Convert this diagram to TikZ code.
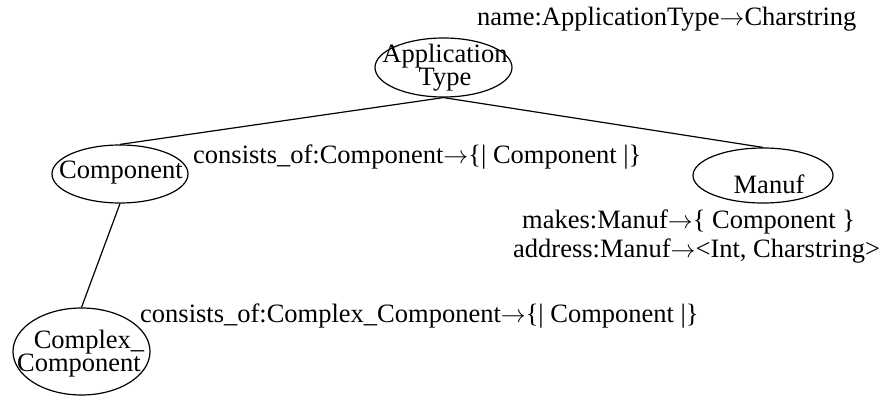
\documentclass[tikz,border=0pt]{standalone}
\usepackage{fontspec}
\setmainfont{Liberation Serif}
\usetikzlibrary{shapes.geometric}
\newcommand{\toarrow}{$\rightarrow$}
\begin{document}
\begin{tikzpicture}[x=1pt,y=-1pt,
  every node/.style={font=\fontsize{26.5}{23.5}\selectfont, inner sep=0pt},
  entity/.style={ellipse, draw, line width=1.2pt},
  label text/.style={align=center},
  attr/.style={anchor=base west},
  link/.style={line width=1.2pt}]
  \useasboundingbox (0,0) rectangle (887,396);

  % entity type outlines
  \node[entity, minimum width=137pt, minimum height=59pt] (app) at (443.5,67.5) {};
  \node[entity, minimum width=136pt, minimum height=58pt] (comp) at (120,174) {};
  \node[entity, minimum width=140pt, minimum height=55pt] (manuf) at (763,175.5) {};
  \node[entity, minimum width=137pt, minimum height=87pt] (cplx) at (81.5,351.5) {};

  % entity type names
  \node[label text] (apptext) at (445,67.5) {Application\\Type};
  \node[anchor=base] (comptext) at (121,178) {Component};
  \node[anchor=base] (manuftext) at (769,193) {Manuf};
  \node[label text] (cplxtext) at (79,353.5) {\hspace*{20pt}Complex\_\\Component};

  % hierarchy links
  \draw[link] (app.south) -- (comp.north);
  \draw[link] (app.south) -- (manuf.north);
  \draw[link] (comp.south) -- (cplx.north);

  % attribute signatures
  \node[attr] (nameattr) at (477,26) {name:ApplicationType\toarrow Charstring};
  \node[attr] (compattr) at (193,164) {consists\_of:Component\toarrow\{| Component |\}};
  \node[attr] (makesattr) at (522,228) {makes:Manuf\toarrow\{ Component \}};
  \node[attr] (addrattr) at (513,257) {address:Manuf\toarrow<Int, Charstring>};
  \node[attr] (cplxattr) at (140,322) {consists\_of:Complex\_Component\toarrow\{| Component |\}};
\end{tikzpicture}
\end{document}
